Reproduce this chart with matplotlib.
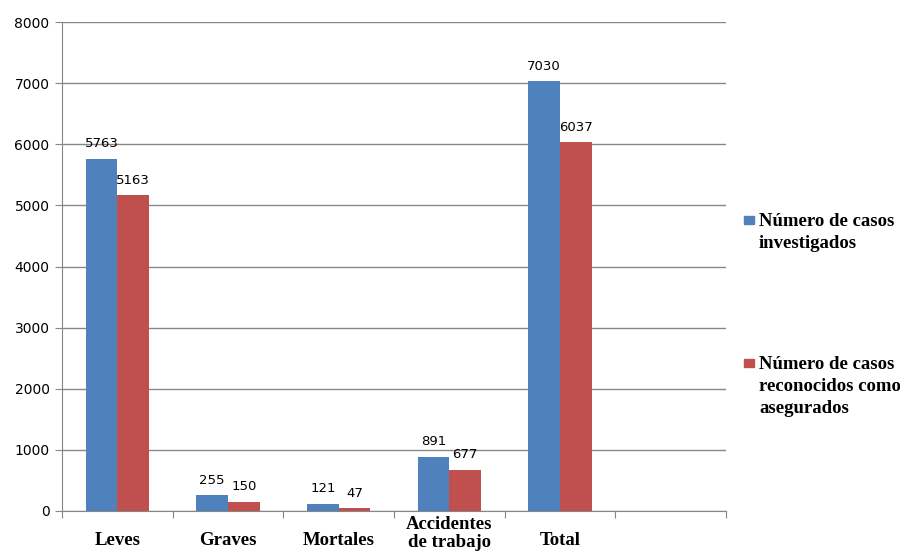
import numpy as np
import matplotlib.pyplot as plt
from matplotlib.patches import Rectangle

# datos
categorias = ['Leves', 'Graves', 'Mortales', 'Accidentes\nde trabajo', 'Total', '']
investigados = [5763, 255, 121, 891, 7030, np.nan]
asegurados = [5163, 150, 47, 677, 6037, np.nan]
leyenda = ['Número de casos\ninvestigados', 'Número de casos\nreconocidos como\nasegurados']

azul = '#4F81BD'
rojo = '#C0504D'
gris = '#868686'
serif = ['Liberation Serif', 'DejaVu Serif']

fig = plt.figure(figsize=(9, 5.52), dpi=100)
ax = fig.add_axes([62/900, 1 - 511/552, (726-62)/900, (511-22)/552])

x = np.arange(len(categorias))
w = 0.285
b1 = ax.bar(x - w/2, investigados, w, color=azul)
b2 = ax.bar(x + w/2, asegurados, w, color=rojo)

for barras, vals in [(b1, investigados), (b2, asegurados)]:
    for r, v in zip(barras, vals):
        if np.isnan(v):
            continue
        ax.annotate(str(int(v)), (r.get_x() + r.get_width()/2, v),
                    xytext=(0, 6), textcoords='offset points',
                    ha='center', va='bottom', fontsize=9.5, color='black')

ax.set_xlim(-0.5, len(categorias) - 0.5)
ax.set_ylim(0, 8000)
ax.set_yticks(np.arange(0, 8001, 1000))
ax.yaxis.grid(True, color=gris, lw=1)
ax.set_axisbelow(True)

# ticks en los limites de categoria
ax.set_xticks(np.arange(-0.5, len(categorias)), labels=[])
ax.tick_params(axis='x', which='major', length=5, color=gris)
ax.tick_params(axis='y', length=5, color=gris, labelsize=10, pad=4)

# etiquetas de categoria (las de dos lineas quedan mas arriba, como en Excel)
for xi, cat in zip(x, categorias):
    dy = -21 if '\n' not in cat else -16
    ax.annotate(cat, (xi, 0), xycoords=('data', 'axes fraction'),
                xytext=(0, dy), textcoords='offset points',
                ha='center', va='center', family=serif, fontweight='bold',
                fontsize=13.5, linespacing=1.1, annotation_clip=False)

for s in ['top', 'right']:
    ax.spines[s].set_visible(False)
for s in ['left', 'bottom']:
    ax.spines[s].set_color(gris)

# leyenda a la derecha
for col, txt, yy in [(azul, leyenda[0], 220), (rojo, leyenda[1], 363)]:
    fig.patches.append(Rectangle((744/900, 1 - (yy + 4)/552), 10/900, 8/552,
                                 transform=fig.transFigure, color=col))
    fig.text(759/900, 1 - (yy - 7)/552, txt, family=serif, fontweight='bold',
             fontsize=13.5, va='top', ha='left', linespacing=1.38)

plt.savefig('out.png', dpi=100)
